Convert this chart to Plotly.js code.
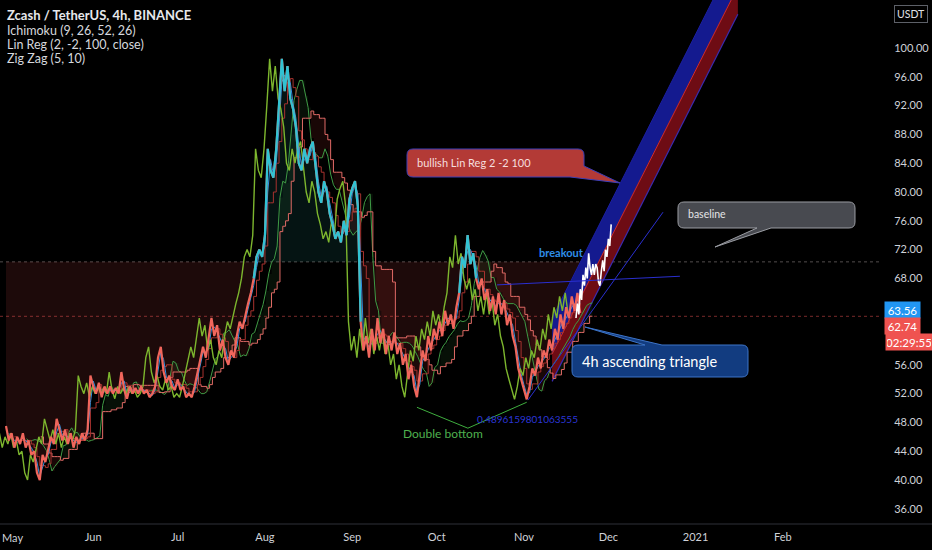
<!DOCTYPE html>
<html><head><meta charset="utf-8">
<script src="https://cdn.plot.ly/plotly-3.0.1.min.js"></script>
<style>html,body{margin:0;padding:0;background:#000;}#chart{width:932px;height:550px;}</style>
</head><body><div id="chart"></div>
<script>
// ---------------- data ----------------
const priceStart = '2020-05-01';           // first daily close
const priceClose = [
 47.5,45.5,46.5,44.5,46,45,46.5,44.5,45.5,43.5,
 44,41,40,43.5,42.5,44.5,46,45,48.5,47,
 45.5,47,45,46.5,44.5,46,45,46.5,45.5,47,
 54.5,53,52,53.5,51.5,53,52,53,52,52.8,
 52,55,52.5,51.3,53,52,52.8,52,53,52,
 52.5,51.5,52,53,57,58.5,55,53.5,54.5,53,
 52.5,54,52.5,53,51.5,52,51.5,53,55,57,
 58.5,57,59.5,62.5,60,61.5,58,59.5,57,56,
 58,57,60,62,61,63,64.5,66,68,71,
 72,71,74,86,83,82,86,92,98.5,94,
 97.5,93,91.5,89,84,83,86,84,86,87,
 83,80,78.5,81.5,80,77,75.5,73.5,74.5,73,
 76,74,79,80.5,81.5,78,62,58,60,57,
 61,58,62.5,59,61,57.5,60,58,60.5,57.5,
 59,56,57.5,54,56,53,51.5,55,58,56.5,
 60,58,61,59.5,62,60,63.5,61.5,63,61,
 64,66,71,69.5,74,70,71.5,68,66.5,68,
 65,66.5,63.5,65.5,63,66,63,65,61.5,63,
 60,58.5,55.5,54,52.5,51.2,53,55.5,54.5,57,
 55.5,58,57,59.5,58,61,59.5,63,61,64,
 62.5,65.5,63.5,66,63.2
];
const baselineValue = 70.3;
const lastPrice = 62.74;
const bidPrice = 63.56;
const countdownText = '02:29:55';

const projectionStart = '2020-11-19 12:00';  // half-day steps (white projected bars)
const projectionValues = [62.5,64.5,63,66.5,65,68.5,67,69.5,68,71.5,69.5,68.5,70,68.5,70,69.5,67.5,67,69,70.5,69,72,71,73.5,72.5,75.5];

const linRegDates = ['2020-11-11','2021-01-16'];
const linRegUpper = [62.5,113.5];
const linRegMid   = [57.5,108.5];
const linRegLower = [53.7,104.7];

const supportDates = ['2020-11-02 10:00','2020-12-20 10:00'];
const supportValues = [51.1,77.2];
const resistDates = ['2020-10-22 10:00','2020-12-26 10:00'];
const resistValues = [67.1,68.3];

const doubleBottomDates = ['2020-09-24 00:00','2020-10-12 02:00','2020-11-02 00:00'];
const doubleBottomValues = [50.1,47.2,50.8];

const monthTicks = ['2020-06-01','2020-07-01','2020-08-01','2020-09-01','2020-10-01','2020-11-01','2020-12-01','2021-01-01','2021-02-01'];
const monthLabels = ['Jun','Jul','Aug','Sep','Oct','Nov','Dec','2021','Feb'];
const firstMonthLabel = 'May';
const priceTicks = [36,40,44,48,52,56,68,72,76,80,84,88,92,96,100];
const priceTickLabels = ['36.00','40.00','44.00','48.00','52.00','56.00','68.00','72.00','76.00','80.00','84.00','88.00','92.00','96.00','100.00'];

// ---------------- helpers ----------------
const DAY = 86400000, HOUR = 3600000;
const SHIFT = 26*4*HOUR; // Ichimoku displacement: 26 bars of 4h
function fmt(ms){return new Date(ms).toISOString().replace('T',' ').slice(0,16);}
const t0 = Date.parse(priceStart+'T00:00:00Z');
const priceMs = priceClose.map((_,i)=>t0+i*DAY);
const priceDates = priceMs.map(fmt);
const pStart = Date.parse(projectionStart.replace(' ','T')+':00Z');
const projDates = projectionValues.map((_,i)=>fmt(pStart+i*12*HOUR));

function midWin(arr,n){return arr.map((v,i)=>{if(i<n-1)return null;const s=arr.slice(i-n+1,i+1);return (Math.max(...s)+Math.min(...s))/2;});}
const tenkan = midWin(priceClose,2);
const kijun = midWin(priceClose,4);
const spanB = midWin(priceClose,9);
const spanA = tenkan.map((v,i)=>(v==null||kijun[i]==null)?null:(v+kijun[i])/2);
const fwdDates = priceMs.map(m=>fmt(m+SHIFT));
const lagDates = priceMs.map(m=>fmt(m-SHIFT));
const cs = 8;
const cDates = fwdDates.slice(cs), cA = spanA.slice(cs), cB = spanB.slice(cs);
const cMax = cA.map((a,i)=>Math.max(a,cB[i]));

const baseArr = priceClose.map(()=>baselineValue);
const belowArr = priceClose.map(v=>Math.min(v,baselineValue));
const aboveArr = priceClose.map(v=>Math.max(v,baselineValue));
const cyanArr = priceClose.map((v,i)=>(v>=baselineValue||(priceClose[i-1]>=baselineValue)||(priceClose[i+1]>=baselineValue))?v:null);

const none = {width:0,color:'rgba(0,0,0,0)'};
const traces = [
 {x:priceDates,y:baseArr,mode:'lines',line:none,hoverinfo:'skip'},
 {x:priceDates,y:belowArr,mode:'lines',line:none,fill:'tonexty',fillcolor:'rgba(239,83,80,0.12)',hoverinfo:'skip'},
 {x:priceDates,y:baseArr,mode:'lines',line:none,hoverinfo:'skip'},
 {x:priceDates,y:aboveArr,mode:'lines',line:none,fill:'tonexty',fillcolor:'rgba(38,166,154,0.12)',hoverinfo:'skip'},
 {x:cDates,y:cB,mode:'lines',line:{...none,shape:'hv'},hoverinfo:'skip'},
 {x:cDates,y:cMax,mode:'lines',line:{...none,shape:'hv'},fill:'tonexty',fillcolor:'rgba(67,160,71,0.10)',hoverinfo:'skip'},
 {x:cDates,y:cA,mode:'lines',line:{...none,shape:'hv'},hoverinfo:'skip'},
 {x:cDates,y:cMax,mode:'lines',line:{...none,shape:'hv'},fill:'tonexty',fillcolor:'rgba(244,67,54,0.10)',hoverinfo:'skip'},
 // Lin Reg channel
 {x:linRegDates,y:linRegLower,mode:'lines',line:{color:'#3a2bb0',width:1.2}},
 {x:linRegDates,y:linRegMid,mode:'lines',line:{color:'#d42a2a',width:1},fill:'tonexty',fillcolor:'#6e0c14'},
 {x:linRegDates,y:linRegUpper,mode:'lines',line:{color:'#1b1fa0',width:1},fill:'tonexty',fillcolor:'#141a8f'},
 // Ichimoku lines
 {x:fwdDates,y:spanA,mode:'lines',line:{color:'#3f9b45',width:1}},
 {x:fwdDates,y:spanB,mode:'lines',line:{color:'#e06a66',width:1,shape:'hv'}},
 {x:priceDates,y:kijun,mode:'lines',line:{color:'#a8322f',width:1,shape:'hv'}},
 {x:priceDates,y:tenkan,mode:'lines',line:{color:'#2f8ee0',width:1}},
 {x:lagDates,y:priceClose,mode:'lines',line:{color:'#7db62e',width:1.4}},
 // price (baseline style)
 {x:priceDates,y:priceClose,mode:'lines',line:{color:'#f0665c',width:2.2}},
 {x:priceDates,y:cyanArr,mode:'lines',line:{color:'#31c3d3',width:2.2},connectgaps:false},
 // projection
 {x:projDates,y:projectionValues,mode:'lines',line:{color:'#ffffff',width:1.6}},
 // trendlines
 {x:supportDates,y:supportValues,mode:'lines',line:{color:'#2a2fd0',width:1}},
 {x:resistDates,y:resistValues,mode:'lines',line:{color:'#2a2fd0',width:1}},
 {x:doubleBottomDates,y:doubleBottomValues,mode:'lines',line:{color:'#3fae3f',width:1}}
];

// pixel -> paper helpers for drawn callouts
const W=880,H=522;
function P(x,y){return (x/W).toFixed(5)+','+(1-y/H).toFixed(5);}
function pathOf(pts){return pts.map((p,i)=>{if(p[0]==='Q')return 'Q'+P(p[1],p[2])+' '+P(p[3],p[4]);return (i===0?'M':'L')+P(p[0],p[1]);}).join(' ')+' Z';}
const call1 = pathOf([[413,149],[578,149],['Q',584,149,584,155],[584,166],[620,183],[570,177],[413,177],['Q',407,177,407,171],[407,155],['Q',407,149,413,149]]);
const call2 = pathOf([[684,202],[849,202],['Q',855,202,855,208],[855,222],['Q',855,228,849,228],[771,228],[715,247],[757,228],[684,228],['Q',678,228,678,222],[678,208],['Q',678,202,684,202]]);
const call3 = pathOf([[578,345],[645,345],[585,327],[662,345],[742,345],['Q',748,345,748,351],[748,371],['Q',748,377,742,377],[578,377],['Q',572,377,572,371],[572,351],['Q',572,345,578,345]]);

const shapes = [
 {type:'line',xref:'paper',yref:'y',x0:0,x1:1,y0:baselineValue,y1:baselineValue,line:{color:'rgba(150,140,140,0.55)',width:1,dash:'dot'},layer:'below'},
 {type:'line',xref:'paper',yref:'y',x0:0,x1:1,y0:lastPrice,y1:lastPrice,line:{color:'rgba(200,70,70,0.6)',width:1,dash:'dot'},layer:'below'},
 {type:'line',xref:'paper',yref:'paper',x0:0,x1:932/W,y0:1-524/H,y1:1-524/H,line:{color:'#2f3138',width:1}},
 {type:'path',xref:'paper',yref:'paper',path:call1,fillcolor:'#b33a36',line:{color:'#3c3fb8',width:1}},
 {type:'path',xref:'paper',yref:'paper',path:call2,fillcolor:'#484a50',line:{color:'#9a9ca2',width:1}},
 {type:'path',xref:'paper',yref:'paper',path:call3,fillcolor:'#123c80',line:{color:'#3d74c8',width:1}}
];

const TF = 'Lato, "Noto Sans", sans-serif';
const NF = '"Liberation Sans Narrow", Lato, sans-serif';
function pa(x,y,text,font,extra){return Object.assign({xref:'paper',yref:'paper',x:x/W,y:1-y/H,text:text,showarrow:false,xanchor:'left',yanchor:'middle',font:font},extra||{});}
const annotations = [
 pa(5,15,'<b>Zcash / TetherUS, 4h, BINANCE</b>',{family:NF,size:13,color:'#e6e8ec'}),
 pa(5,30,'Ichimoku (9, 26, 52, 26)',{family:NF,size:12.5,color:'#d6d8dd'}),
 pa(5,44,'Lin Reg (2, -2, 100, close)',{family:NF,size:12.5,color:'#d6d8dd'}),
 pa(5,58,'Zig Zag (5, 10)',{family:NF,size:12.5,color:'#d6d8dd'}),
 pa(415,163,'bullish Lin Reg 2 -2 100',{family:TF,size:11,color:'#f6dede'}),
 pa(686,214,'baseline',{family:TF,size:10.5,color:'#e4e4e6'}),
 pa(580,361,'4h ascending triangle',{family:TF,size:14.5,color:'#ffffff'}),
 {xref:'x',yref:'y',x:'2020-11-14 12:00',y:71.6,text:'<b>breakout</b>',showarrow:false,font:{family:TF,size:11,color:'#2f8ee8'}},
 {xref:'x',yref:'y',x:'2020-10-03 06:00',y:46.4,text:'Double bottom',showarrow:false,font:{family:TF,size:12,color:'#4fb04f'}},
 {xref:'x',yref:'y',x:'2020-11-02 10:00',y:48.5,text:'0.4896159801063555',showarrow:false,font:{family:TF,size:10,color:'#2b36d8'}},
 pa(0,537,firstMonthLabel,{family:NF,size:11,color:'#cfd2d8'}),
 // price scale labels
 {xref:'paper',yref:'paper',x:884/W,y:1-310/H,xanchor:'left',yanchor:'middle',text:bidPrice.toFixed(2),showarrow:false,bgcolor:'#2196f3',width:33,height:14,font:{family:NF,size:11.5,color:'#ffffff'}},
 {xref:'paper',yref:'paper',x:884/W,y:1-326/H,xanchor:'left',yanchor:'middle',text:lastPrice.toFixed(2),showarrow:false,bgcolor:'#ef5350',width:33,height:14,font:{family:NF,size:11.5,color:'#ffffff'}},
 {xref:'paper',yref:'paper',x:885/W,y:1-342/H,xanchor:'left',yanchor:'middle',text:countdownText,showarrow:false,bgcolor:'#ef5350',width:44,height:14,font:{family:NF,size:11.5,color:'#ffffff'}},
 {xref:'paper',yref:'paper',x:911/W,y:1-14/H,xanchor:'center',yanchor:'middle',text:'USDT',showarrow:false,bgcolor:'#000000',bordercolor:'#5d6068',borderwidth:1,borderpad:2,font:{family:NF,size:10.5,color:'#e0e2e6'}}
];

const layout = {
 width:932,height:550,
 margin:{l:0,r:52,t:0,b:28,pad:0},
 paper_bgcolor:'#000000',plot_bgcolor:'#000000',
 showlegend:false,
 font:{family:NF,color:'#cfd2d8',size:11},
 xaxis:{type:'date',range:['2020-04-28 21:00','2021-03-07 12:00'],tickvals:monthTicks,ticktext:monthLabels,showgrid:false,zeroline:false,showline:false,ticks:'outside',ticklen:5,tickcolor:'rgba(0,0,0,0)',tickfont:{size:11,color:'#cfd2d8'},fixedrange:true},
 yaxis:{side:'right',range:[34.17,106.67],tickvals:priceTicks,ticktext:priceTickLabels,showgrid:false,zeroline:false,showline:false,ticks:'outside',ticklen:11,tickcolor:'rgba(0,0,0,0)',tickfont:{size:11,color:'#cfd2d8'},fixedrange:true},
 shapes:shapes,
 annotations:annotations
};
Plotly.newPlot('chart',traces,layout,{displayModeBar:false,staticPlot:true});
</script></body></html>
